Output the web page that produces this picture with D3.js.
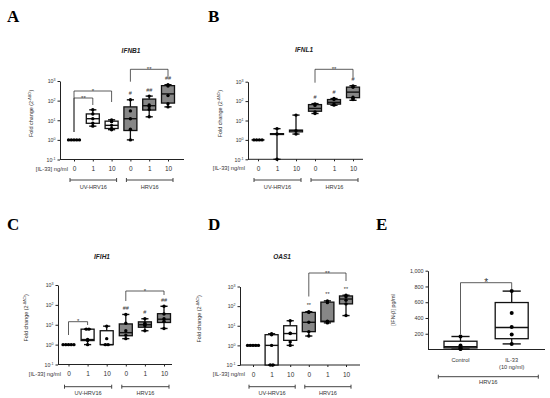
<!DOCTYPE html>
<html>
<head>
<meta charset="utf-8">
<script src="https://cdn.jsdelivr.net/npm/d3@7"></script>
<style>
body { margin: 0; background: #fff; }
svg { display: block; }
text { font-family: "Liberation Sans", Arial, sans-serif; fill: #333; }
.letter { font-family: "Liberation Serif", "Times New Roman", serif; font-weight: bold; font-size: 17px; fill: #000; }
.gene { font-weight: bold; font-style: italic; font-size: 6.5px; fill: #222; }
</style>
</head>
<body>
<div id="chart"></div>
<script>
const doses = ["0", "1", "10", "0", "1", "10"]
const groups = ["UV-HRV16", "HRV16"]
const logTicks = [0.1, 1, 10, 100, 1000]
const logExp = ["-1", "0", "1", "2", "3"]

// box stats per condition: [min, q1, median, q3, max]
const ifnb1Box = [[1, 1, 1, 1, 1], [5, 7, 12, 21, 34], [3.3, 3.8, 5.5, 9, 10.5], [1, 3, 12, 48, 110], [15, 33, 55, 120, 170], [48, 75, 220, 580, 650]]
const ifnb1Pts = [[1, 1, 1, 1, 1], [5, 7, 12, 21, 34], [3.3, 3.8, 5.5, 8.5, 10.5], [1, 3.5, 12, 30, 110], [15, 35, 50, 60, 170], [48, 70, 180, 560, 650]]
const ifnb1Sig = ["", "", "", "#", "##", "##"]

const ifnl1Box = [[1, 1, 1, 1, 1], [0.1, 1.9, 2, 2.1, 3.8], [2, 2.6, 3, 3.2, 19], [23, 30, 42, 66, 74], [61, 70, 87, 120, 135], [110, 150, 290, 525, 620]]
const ifnl1Pts = [[1, 1, 1, 1], [0.1, 2, 3.8], [2, 3, 19], [23, 28, 60, 72], [62, 70, 120, 135], [120, 140, 160, 520, 600]]
const ifnl1Sig = ["", "", "", "#", "#", "#"]

const ifih1Box = [[1, 1, 1, 1, 1], [1, 1.6, 1.8, 6, 6], [1, 1, 1, 5, 8.5], [2, 2.8, 4, 11, 33], [5, 7.5, 10, 14, 20], [6.5, 13, 19, 36, 85]]
const ifih1Pts = [[1, 1, 1, 1, 1], [1, 1.6, 1.8, 6, 6], [1, 1, 2, 8.5], [2, 3, 5, 12, 33], [5, 9, 10, 12, 20], [6.5, 15, 20, 35, 85]]
const ifih1Sig = ["", "", "", "##", "#", "##"]

const oas1Box = [[1, 1, 1, 1, 1], [0.1, 0.1, 1, 3.5, 3.9], [1, 1.8, 4, 10, 18], [3, 5, 15, 48, 52], [14, 16, 17, 160, 185], [33, 130, 230, 330, 360]]
const oas1Pts = [[1, 1, 1, 1, 1], [0.1, 0.1, 1, 3.5, 3.9], [1, 1.5, 4, 4.2, 18], [3, 5, 15, 48, 52], [14, 16, 17, 150, 185], [33, 130, 200, 300, 360]]
const oas1Sig = ["", "", "", "**", "**", "**"]

// panel E
const eCats = ["Control", "IL-33"]
const eTicks = [200, 400, 600, 800, 1000]
const eBox = [[5, 20, 35, 105, 165], [71, 137, 279, 596, 741]]
const ePts = [[5, 10, 25, 50, 165], [71, 190, 285, 462, 741]]

const svg = d3.select("#chart").append("svg")
	.attr("width", 550)
	.attr("height", 398)

const GREY = "#878787"

function drawBox(g, cx, s, pts, y, bw, fill, r) {
	const cap = bw * 0.55
	g.append("line")
		.attr("x1", cx).attr("x2", cx)
		.attr("y1", y(s[4])).attr("y2", y(s[0]))
		.attr("stroke", "#111").attr("stroke-width", 1.3)
	g.append("rect")
		.attr("x", cx - bw / 2).attr("y", y(s[3]))
		.attr("width", bw).attr("height", Math.max(0, y(s[1]) - y(s[3])))
		.attr("fill", fill).attr("stroke", "#111").attr("stroke-width", 1.3)
	g.append("line")
		.attr("x1", cx - bw / 2).attr("x2", cx + bw / 2)
		.attr("y1", y(s[2])).attr("y2", y(s[2]))
		.attr("stroke", "#111").attr("stroke-width", 1.4)
	;[s[0], s[4]].forEach(v => {
		g.append("line")
			.attr("x1", cx - cap / 2).attr("x2", cx + cap / 2)
			.attr("y1", y(v)).attr("y2", y(v))
			.attr("stroke", "#111").attr("stroke-width", 1.4)
	})
	// points, equal values spread side by side
	const byVal = d3.group(pts, v => v)
	byVal.forEach((list, v) => {
		list.forEach((_, k) => {
			g.append("circle")
				.attr("cx", cx + (k - (list.length - 1) / 2) * r * 1.6)
				.attr("cy", y(v))
				.attr("r", r)
				.attr("fill", "#000")
		})
	})
}

function drawBracket(g, x1, x2, yy, l1, l2, label, fs) {
	g.append("path")
		.attr("d", `M${x1},${yy + l1}V${yy}H${x2}V${yy + l2}`)
		.attr("fill", "none").attr("stroke", "#333").attr("stroke-width", 0.8)
	g.append("text")
		.attr("x", (x1 + x2) / 2).attr("y", yy - 0.5 + fs * 0.35)
		.attr("text-anchor", "middle")
		.attr("font-size", fs)
		.attr("fill", "#222")
		.text(label)
}

function logPanel(p, box, pts, sig, brackets) {
	const g = svg.append("g")
	const x = d3.scalePoint().domain(d3.range(doses.length)).range([p.c0, p.c5])
	const y = d3.scaleLog().domain([0.1, 1000]).range([p.yBot, p.yTop])

	svg.append("text").attr("class", "letter").attr("x", p.lx).attr("y", p.ly).text(p.letter)
	g.append("text").attr("class", "gene")
		.attr("x", p.tx).attr("y", p.ty + 2.3)
		.attr("text-anchor", "middle")
		.text(p.gene)

	// y axis
	const yAxis = g.append("g")
		.attr("transform", `translate(${p.ax},0)`)
		.call(d3.axisLeft(y).tickValues(logTicks).tickSize(2.5).tickSizeOuter(0).tickFormat(""))
	yAxis.select(".domain").attr("stroke", "#222")
	yAxis.selectAll(".tick line").attr("stroke", "#222")
	yAxis.selectAll(".tick").each(function (d, i) {
		const t = d3.select(this).append("text")
			.attr("x", -4.5).attr("dy", "0.35em")
			.attr("text-anchor", "end")
			.attr("font-size", 5.2)
			.attr("fill", "#333")
		t.append("tspan").text("10")
		t.append("tspan").attr("font-size", 3.6).attr("dy", -2).text(logExp[i])
	})

	// x axis
	g.append("line")
		.attr("x1", p.ax).attr("x2", p.axEnd)
		.attr("y1", p.yBot).attr("y2", p.yBot)
		.attr("stroke", "#222")
	const xAxis = g.append("g")
		.attr("transform", `translate(0,${p.yBot})`)
		.call(d3.axisBottom(x).tickSize(2).tickPadding(5).tickFormat(i => doses[i]))
	xAxis.select(".domain").remove()
	xAxis.selectAll(".tick line").attr("stroke", "#222")
	xAxis.selectAll(".tick text").attr("font-size", 6.5).attr("fill", "#333").attr("font-family", "Liberation Sans, Arial, sans-serif")

	g.append("text")
		.attr("x", p.doseEnd).attr("y", p.yBot + 11)
		.attr("text-anchor", "end")
		.attr("font-size", 5.8)
		.text("[IL-33] ng/ml")

	// group brackets
	groups.forEach((name, k) => {
		const xa = x(k * 3) - 4, xb = x(k * 3 + 2) + 5
		g.append("path")
			.attr("d", `M${xa},${p.groupY - 2}V${p.groupY + 2}M${xa},${p.groupY}H${xb}M${xb},${p.groupY - 2}V${p.groupY + 2}`)
			.attr("fill", "none").attr("stroke", "#444").attr("stroke-width", 1)
		g.append("text")
			.attr("x", (xa + xb) / 2).attr("y", p.groupY + 8.6)
			.attr("text-anchor", "middle")
			.attr("font-size", 5.6)
			.attr("fill", "#444")
			.text(name)
	})

	// y label
	const yl = g.append("text")
		.attr("transform", `translate(${p.ylabX},${(p.yTop + p.yBot) / 2 - 7}) rotate(-90)`)
		.attr("text-anchor", "middle")
		.attr("font-size", 5.4)
		.attr("fill", "#666")
	yl.append("tspan").text("Fold change (2")
	yl.append("tspan").attr("font-size", 3.6).attr("dy", -2).text("-ΔΔCt")
	yl.append("tspan").attr("dy", 2).text(")")

	// boxes
	box.forEach((s, i) => {
		drawBox(g, x(i), s, pts[i], y, 13, i < 3 ? "#fff" : GREY, 1.7)
		if (sig[i]) {
			g.append("text")
				.attr("x", x(i)).attr("y", y(s[4]) - 4.5)
				.attr("text-anchor", "middle")
				.attr("font-size", 5.5)
				.attr("fill", "#444")
				.text(sig[i])
		}
	})

	brackets.forEach(b => drawBracket(g, x(b.a), x(b.b), b.y, b.l1, b.l2, b.label, 6))
}

logPanel({ letter: "A", lx: 7, ly: 21.7, gene: "IFNB1", tx: 131, ty: 51, ax: 60, axEnd: 184, c0: 74, c5: 168, yTop: 81, yBot: 159.5, ylabX: 33, doseEnd: 68, groupY: 180 },
	ifnb1Box, ifnb1Pts, ifnb1Sig,
	[{ a: 0, b: 1, label: "**", y: 98, l1: 34, l2: 7 }, { a: 0, b: 2, label: "*", y: 91, l1: 41, l2: 11 }, { a: 3, b: 5, label: "**", y: 69.3, l1: 12.4, l2: 7.4 }])

logPanel({ letter: "B", lx: 208, ly: 21.7, gene: "IFNL1", tx: 304, ty: 50, ax: 248, axEnd: 363, c0: 258, c5: 353, yTop: 81.7, yBot: 159.3, ylabX: 222, doseEnd: 245, groupY: 180 },
	ifnl1Box, ifnl1Pts, ifnl1Sig,
	[{ a: 3, b: 5, label: "**", y: 69.3, l1: 13.4, l2: 8.4 }])

logPanel({ letter: "C", lx: 7, ly: 230, gene: "IFIH1", tx: 102, ty: 256.7, ax: 58, axEnd: 172, c0: 68.5, c5: 164, yTop: 285, yBot: 364.5, ylabX: 28, doseEnd: 61, groupY: 386.7 },
	ifih1Box, ifih1Pts, ifih1Sig,
	[{ a: 0, b: 1, label: "*", y: 321.7, l1: 13.3, l2: 3.3 }, { a: 3, b: 5, label: "*", y: 291, l1: 10, l2: 4 }])

logPanel({ letter: "D", lx: 208, ly: 230, gene: "OAS1", tx: 282, ty: 256.7, ax: 240, axEnd: 360, c0: 253, c5: 346, yTop: 286.5, yBot: 365, ylabX: 200.5, doseEnd: 245, groupY: 386.7 },
	oas1Box, oas1Pts, oas1Sig,
	[{ a: 3, b: 5, label: "**", y: 273, l1: 23.5, l2: 8 }])

// ---------- panel E ----------
const gE = svg.append("g")
svg.append("text").attr("class", "letter").attr("x", 376).attr("y", 230).text("E")

const xE = d3.scalePoint().domain(d3.range(eCats.length)).range([460.5, 511.7])
const yE = d3.scaleLinear().domain([0, 1000]).range([349.5, 270.7])

const yAxisE = gE.append("g")
	.attr("transform", "translate(428,0)")
	.call(d3.axisLeft(yE).tickValues(eTicks).tickSize(2.5).tickSizeOuter(0).tickFormat(d3.format(",")))
yAxisE.select(".domain").attr("stroke", "#222")
yAxisE.selectAll(".tick line").attr("stroke", "#222")
yAxisE.selectAll(".tick text").attr("font-size", 5.4).attr("fill", "#333").attr("x", -4.5).attr("font-family", "Liberation Sans, Arial, sans-serif")

gE.append("line")
	.attr("x1", 428).attr("x2", 545)
	.attr("y1", 349.5).attr("y2", 349.5)
	.attr("stroke", "#222")

gE.append("text")
	.attr("transform", "translate(395,310) rotate(-90)")
	.attr("text-anchor", "middle")
	.attr("font-size", 5.4)
	.attr("fill", "#666")
	.text("[IFN-β] pg/ml")

eBox.forEach((s, i) => drawBox(gE, xE(i), s, ePts[i], yE, 33, "#fff", 2))

drawBracket(gE, xE(0), xE(1), 282.7, 51.6, 6.6, "*", 10)

gE.append("text").attr("x", xE(0)).attr("y", 362.2).attr("text-anchor", "middle").attr("font-size", 5.6).text("Control")
gE.append("text").attr("x", xE(1)).attr("y", 362.2).attr("text-anchor", "middle").attr("font-size", 5.6).text("IL-33")
gE.append("text").attr("x", xE(1)).attr("y", 369).attr("text-anchor", "middle").attr("font-size", 5.6).text("(10 ng/ml)")

gE.append("path")
	.attr("d", "M438.3,374.7V378.7M438.3,376.7H538.3M538.3,374.7V378.7")
	.attr("fill", "none").attr("stroke", "#444").attr("stroke-width", 1)
gE.append("text")
	.attr("x", 488.3).attr("y", 384)
	.attr("text-anchor", "middle")
	.attr("font-size", 5.8)
	.attr("fill", "#444")
	.text("HRV16")
</script>
</body>
</html>
